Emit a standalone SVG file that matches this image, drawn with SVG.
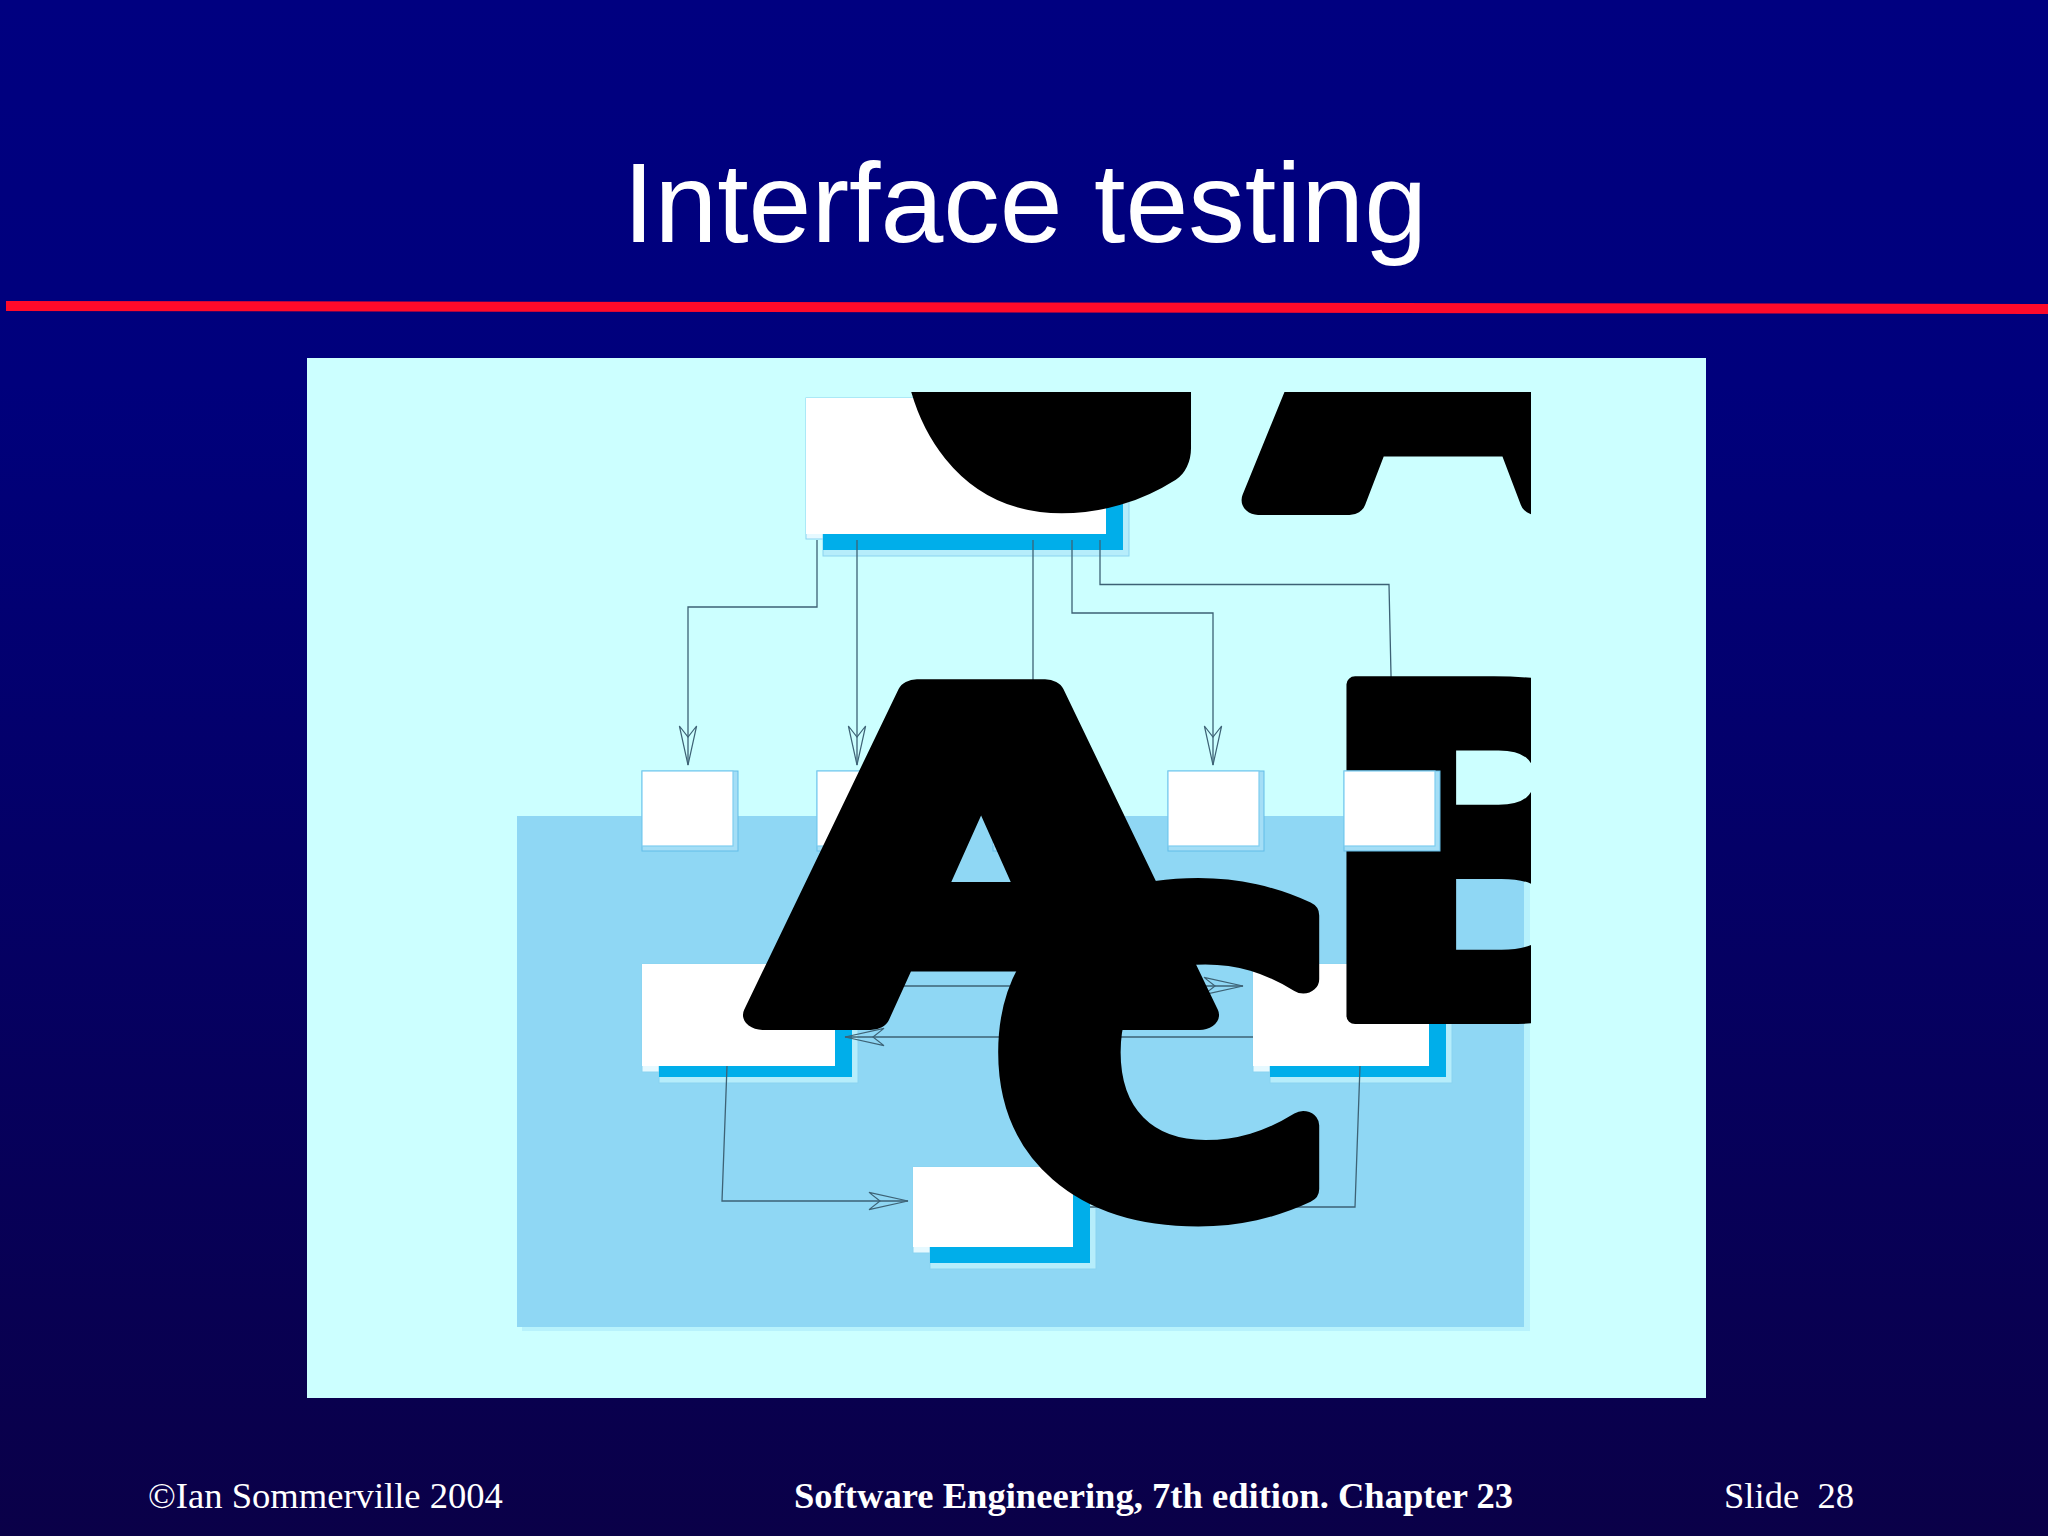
<svg xmlns="http://www.w3.org/2000/svg" width="2048" height="1536" viewBox="0 0 2048 1536">
<defs>
<linearGradient id="bg" x1="0" y1="0" x2="0" y2="1">
<stop offset="0" stop-color="#000080"/>
<stop offset="0.25" stop-color="#00007c"/>
<stop offset="1" stop-color="#0a0048"/>
</linearGradient>
<clipPath id="figclip"><rect x="500" y="392" width="1031" height="940"/></clipPath>
<marker id="arr" viewBox="-42 -11 44 22" refX="0" refY="0" markerWidth="44" markerHeight="22" markerUnits="userSpaceOnUse" orient="auto">
<path d="M0,0 L-39,-8.6 L-28,0 L-39,8.6 Z" fill="none" stroke="#3d6275" stroke-width="1.2"/>
</marker>
<style>
.title{font-family:"Liberation Sans",Arial,sans-serif;font-size:113px;fill:#fff}
.foot{font-family:"Liberation Serif","Times New Roman",serif;font-size:36.6px;fill:#fff}
.frame{fill:#e6f9ff;stroke:#8ad3f0;stroke-width:1}
.shout{fill:#b6edfb;stroke:#8ad3f0;stroke-width:1}
.shadow{fill:#00aeea}
.white{fill:#fff;stroke:#7fcdf0;stroke-width:1.2}
.sframe{fill:#a4def6;stroke:#62bde8;stroke-width:1}
.conn{fill:none;stroke:#3d6275;stroke-width:1.3}
.big{font-family:"DejaVu Sans",sans-serif;font-weight:bold;font-size:440px;fill:#000;stroke:#000;stroke-width:30;stroke-linejoin:round}
</style>
</defs>
<rect x="0" y="0" width="2048" height="1536" fill="url(#bg)"/>
<text class="title" x="1025" y="242" text-anchor="middle">Interface testing</text>
<polygon points="6,301 2048,304 2048,314 6,311" fill="#ff0a2a"/>

<g id="figure">
<rect x="307" y="358" width="1399" height="1040" fill="#ccffff"/>
<rect x="522" y="821" width="1008" height="510" fill="#b8f2fc"/>
<rect x="517" y="816" width="1007" height="511" fill="#8fd7f4"/>
</g>

<g id="box-top">
<rect class="frame" x="806" y="398" width="306" height="141"/>
<rect class="shout" x="823" y="414" width="306" height="142"/>
<rect class="shadow" x="823" y="414" width="300" height="136"/>
<rect x="806" y="398" width="300" height="136" fill="#fff"/>
</g>
<g id="box-s1">
<rect class="sframe" x="642" y="771" width="96" height="80"/>
<rect class="white" x="642" y="771" width="91" height="75"/>
</g>
<g id="box-s2">
<rect class="sframe" x="817" y="771" width="96" height="80"/>
<rect class="white" x="817" y="771" width="91" height="75"/>
</g>
<g id="box-s3">
<rect class="sframe" x="993" y="771" width="96" height="80"/>
<rect class="white" x="993" y="771" width="91" height="75"/>
</g>
<g id="box-s4">
<rect class="sframe" x="1168" y="771" width="96" height="80"/>
<rect class="white" x="1168" y="771" width="91" height="75"/>
</g>
<g id="box-left">
<rect class="frame" x="642" y="964" width="199" height="108"/>
<rect class="shout" x="659" y="975" width="199" height="108"/>
<rect class="shadow" x="659" y="975" width="193" height="102"/>
<rect x="642" y="964" width="193" height="102" fill="#fff"/>
</g>
<g id="box-right">
<rect class="frame" x="1253" y="964" width="182" height="108"/>
<rect class="shout" x="1270" y="975" width="182" height="108"/>
<rect class="shadow" x="1270" y="975" width="176" height="102"/>
<rect x="1253" y="964" width="176" height="102" fill="#fff"/>
</g>
<g id="box-bottom">
<rect class="frame" x="913" y="1167" width="166" height="86"/>
<rect class="shout" x="930" y="1183" width="166" height="86"/>
<rect class="shadow" x="930" y="1183" width="160" height="80"/>
<rect x="913" y="1167" width="160" height="80" fill="#fff"/>
</g>

<g id="connectors">
<path class="conn" d="M817,540 V607 H688 V765" marker-end="url(#arr)"/>
<path class="conn" d="M857,540 V765" marker-end="url(#arr)"/>
<path class="conn" d="M1033,540 V765" marker-end="url(#arr)"/>
<path class="conn" d="M1072,540 V613 H1213 V765" marker-end="url(#arr)"/>
<path class="conn" d="M1100,540 V584.5 H1389 L1393,765" marker-end="url(#arr)"/>
<path class="conn" d="M835,986 H1243" marker-end="url(#arr)"/>
<path class="conn" d="M1253,1037 H845" marker-end="url(#arr)"/>
<path class="conn" d="M727,1066 L722,1201 H908" marker-end="url(#arr)"/>
<path class="conn" d="M1360,1066 L1355,1207 H1090"/>
</g>

<g id="glyphs" clip-path="url(#figclip)">
<text class="big" text-anchor="middle" transform="translate(1050,472) scale(0.77,1)" style="stroke-width:70">G</text>
<text class="big" text-anchor="middle" transform="translate(1443,500) scale(1.1,1)">A</text>
<text class="big" text-anchor="middle" transform="translate(981,1015) scale(1.3,1)">A</text>
<text class="big" text-anchor="middle" transform="translate(1162,1206) scale(1.06,0.96)">C</text>
<text class="big" text-anchor="start" transform="translate(1310,1016) scale(1.08,1)" style="font-size:455px;stroke-width:16">B</text>
</g>

<g id="box-s5">
<rect class="sframe" x="1344" y="771" width="96" height="80"/>
<rect class="white" x="1344" y="771" width="91" height="75"/>
</g>

<g id="footer">
<text class="foot" x="148" y="1508">©Ian Sommerville 2004</text>
<text class="foot" x="794" y="1508" font-weight="bold">Software Engineering, 7th edition. Chapter 23</text>
<text class="foot" x="1724" y="1508">Slide&#160; 28</text>
</g>
</svg>
